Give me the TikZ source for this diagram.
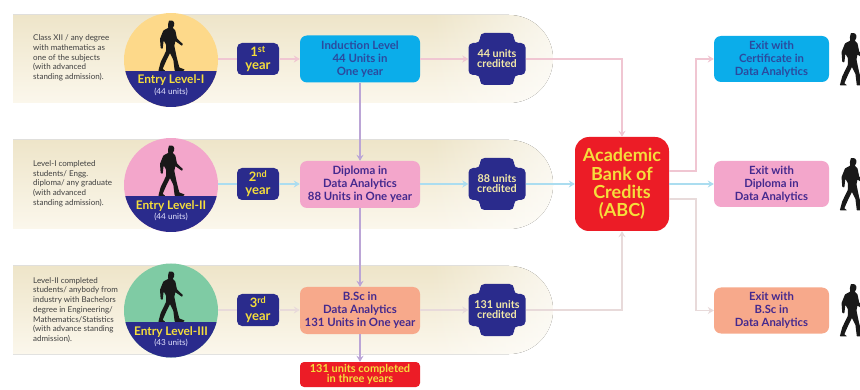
\documentclass[tikz,border=0pt]{standalone}
\usepackage{fontspec}
\setmainfont{Lato}
\usetikzlibrary{arrows.meta,fadings}
\definecolor{navy}{HTML}{2A2B8C}
\definecolor{cream}{HTML}{F3E9A8}
\definecolor{goldtxt}{HTML}{F5DE3C}
\definecolor{ink}{HTML}{44298E}
\definecolor{inkblue}{HTML}{2B4A9E}
\definecolor{cyanbox}{HTML}{0BADEA}
\definecolor{pinkbox}{HTML}{F3A6CB}
\definecolor{salmonbox}{HTML}{F7A98B}
\definecolor{redbox}{HTML}{EC1C26}
\definecolor{linkpink}{HTML}{F0C6D2}
\definecolor{linkblue}{HTML}{ABDDF0}
\definecolor{linkgrey}{HTML}{E8DADA}
\definecolor{linkviolet}{HTML}{BBA5D6}
\definecolor{bandtop}{HTML}{EEE5C9}
\definecolor{bandbottom}{HTML}{FBF7EC}
\definecolor{circleyellow}{HTML}{FDD98A}
\definecolor{circlepink}{HTML}{F3A6CB}
\definecolor{circlegreen}{HTML}{7FCBA4}
\tikzset{
  bandfill/.style={top color=bandtop,bottom color=bandbottom},
  bandfade/.style={fill=white,fill opacity=0.65,path fading=west},
  notes/.style={anchor=west,align=left,inner sep=0pt,text=black!75,font=\fontsize{8}{9.7}\selectfont},
  entrycircle/.style={circle,minimum size=94pt,inner sep=0pt,path picture={
      \fill[#1] (path picture bounding box.north west) rectangle (path picture bounding box.south east);
      \fill[navy] ([yshift=-11pt]path picture bounding box.center -| path picture bounding box.west) rectangle (path picture bounding box.south east);}},
  entrytitle/.style={inner sep=0pt,text=goldtxt,font=\fontsize{11.9}{13}\selectfont\bfseries},
  entryunits/.style={inner sep=0pt,text=white!90!blue,font=\fontsize{8.2}{9}\selectfont},
  yearbox/.style={fill=navy,rounded corners=5pt,minimum width=42pt,minimum height=32pt,inner sep=0pt,align=center,text=goldtxt,font=\fontsize{13}{13}\selectfont\bfseries},
  mainbox/.style={fill=#1,rounded corners=7pt,minimum width=120pt,minimum height=47pt,inner sep=0pt,align=center,font=\fontsize{11.4}{13}\selectfont\bfseries},
  exitbox/.style={fill=#1,rounded corners=7pt,minimum width=115pt,minimum height=46pt,inner sep=0pt,align=center,font=\fontsize{11.3}{13}\selectfont\bfseries},
  creditbox/.style={minimum width=57pt,minimum height=31pt,inner sep=0pt,align=center,text=cream,font=\fontsize{10.8}{10}\selectfont\bfseries},
  link/.style={line width=1.7pt,draw=#1},
  linkhead/.style={line width=1.7pt,draw=#1,-{Stealth[length=6pt,width=7pt]}},
  walker/.pic={
    \fill[black!90,rounded corners=0.5pt,xscale=1/3,yscale=1/3]
      (-6,0) -- (6,1) -- (10,8) -- (9,16) -- (5,22) -- (13,30) -- (18,54) -- (36,71) -- (33,76) -- (13,62) -- (10,76)
      -- (17,110) -- (25,141) -- (41,147) -- (38,151) -- (11,151) -- (7,118) -- (-3,98) -- (-14,120) -- (-25,145)
      -- (-17,151) -- (-38,151) -- (-31,125) -- (-15,92) -- (-15,72) -- (-22,60) -- (-25,85) -- (-31,83)
      -- (-33,55) -- (-23,30) -- (-8,22) -- (-9,12) -- cycle;
  },
  creditplus/.pic={
    \fill[navy,rounded corners=4.5pt]
      (-17,-26) -- (17,-26) -- (17,-16) -- (28.5,-16) -- (28.5,16) -- (17,16) -- (17,26)
      -- (-17,26) -- (-17,16) -- (-28.5,16) -- (-28.5,-16) -- (-17,-16) -- cycle;
  },
}
\begin{document}
\begin{tikzpicture}[x=1pt,y=-1pt]
\useasboundingbox (0,0) rectangle (860,390);
\clip (0,0) rectangle (860,390);
\fill[white] (0,0) rectangle (860,390);
% bands
\fill[bandfill] (13,15) [rounded corners=44pt] -- (553,15) -- (553,103) [sharp corners] -- (13,103) -- cycle;
\fill[bandfill] (13,140) [rounded corners=44pt] -- (553,140) -- (553,229) [sharp corners] -- (13,229) -- cycle;
\fill[bandfill] (13,266) [rounded corners=44pt] -- (553,266) -- (553,354) [sharp corners] -- (13,354) -- cycle;
\fill[bandfade] (430,15) [rounded corners=44pt] -- (553,15) -- (553,103) [sharp corners] -- (430,103) -- cycle;
\fill[bandfade] (430,140) [rounded corners=44pt] -- (553,140) -- (553,229) [sharp corners] -- (430,229) -- cycle;
\fill[bandfade] (430,266) [rounded corners=44pt] -- (553,266) -- (553,354) [sharp corners] -- (430,354) -- cycle;
% notes
\node[notes] (n1) at (33,58) {Class XII / any degree\\with mathematics as\\one of the subjects\\(with advanced\\standing admission).};
\node[notes] (n2) at (33,183.5) {Level-I completed\\students/ Engg.\\diploma/ any graduate\\(with advanced\\standing admission).};
\node[notes] (n3) at (33,310) {Level-II completed\\students/ anybody from\\industry with Bachelors\\degree in Engineering/\\Mathematics/Statistics\\(with advance standing\\admission).};
% entry circles
\node[entrycircle=circleyellow] (c1) at (171,60) {};
\node[entrycircle=circlepink] (c2) at (171,185) {};
\node[entrycircle=circlegreen] (c3) at (171,310.5) {};
\pic at (171,20.5) {walker};
\pic at (171,145.5) {walker};
\pic at (171,271.5) {walker};
\node[entrytitle] (t1) at (171,80) {Entry Level-I};
\node[entryunits] (u1) at (171,91.5) {(44 units)};
\node[entrytitle] (t2) at (171,206) {Entry Level-II};
\node[entryunits] (u2) at (171,217) {(44 units)};
\node[entrytitle] (t3) at (171,332) {Entry Level-III};
\node[entryunits] (u3) at (171,343) {(43 units)};
% year boxes
\node[yearbox] (y1) at (258,59) {1\textsuperscript{st}\\year};
\node[yearbox] (y2) at (258,184) {2\textsuperscript{nd}\\year};
\node[yearbox] (y3) at (258,310) {3\textsuperscript{rd}\\year};
% main boxes
\node[mainbox=cyanbox,text=inkblue] (m1) at (360,59) {Induction Level\\44 Units in\\One year};
\node[mainbox=pinkbox,text=ink] (m2) at (360,184.5) {Diploma in\\Data Analytics\\88 Units in One year};
\node[mainbox=salmonbox,text=ink] (m3) at (360,310.5) {B.Sc in\\Data Analytics\\131 Units in One year};
\node[fill=redbox,rounded corners=4pt,minimum width=120pt,minimum height=25pt,inner sep=0pt,align=center,text=goldtxt,font=\fontsize{11}{10.5}\selectfont\bfseries] (done) at (360,374.5) {131 units completed\\in three years};
% credit shapes
\pic at (497,59) {creditplus};
\pic at (497,184) {creditplus};
\pic at (497,310) {creditplus};
\node[creditbox] (k1) at (497,59) {44 units\\credited};
\node[creditbox] (k2) at (497,184) {88 units\\credited};
\node[creditbox] (k3) at (497,310) {131 units\\credited};
% ABC
\node[fill=redbox,rounded corners=14pt,minimum width=94pt,minimum height=94pt,inner sep=0pt,align=center,text=goldtxt,font=\fontsize{18}{18.3}\selectfont\bfseries] (abc) at (622,184) {Academic\\Bank of\\Credits\\(ABC)};
% exits
\node[exitbox=cyanbox,text=inkblue] (e1) at (771.5,59) {Exit with\\Certificate in\\Data Analytics};
\node[exitbox=pinkbox,text=ink] (e2) at (771.5,184) {Exit with\\Diploma in\\Data Analytics};
\node[exitbox=salmonbox,text=ink] (e3) at (771.5,310.5) {Exit with\\B.Sc in\\Data Analytics};
\pic[scale=1.04] at (853,33) {walker};
\pic[scale=1.04] at (853,158) {walker};
\pic[scale=1.04] at (853,284) {walker};
% connectors
\draw[link=linkpink] (y1.west -| c1.east) -- (y1.west);
\draw[link=linkblue] (y2.west -| c2.east) -- (y2.west);
\draw[link=linkgrey] (y3.west -| c3.east) -- (y3.west);
\draw[linkhead=linkpink] (y1.east) -- (m1.west);
\draw[linkhead=linkblue] (y2.east) -- (m2.west |- y2.east);
\draw[linkhead=linkgrey] (y3.east) -- (m3.west |- y3.east);
\draw[linkhead=linkpink] (m1.east) -- (k1.west);
\draw[linkhead=linkblue] (m2.east |- k2.west) -- (k2.west);
\draw[linkhead=linkgrey] (m3.east |- k3.west) -- (k3.west);
\draw[linkhead=linkviolet] (m1.south) -- (m2.north);
\draw[linkhead=linkviolet] (m2.south) -- (m3.north);
\draw[linkhead=linkviolet] (m3.south) -- (done.north);
\draw[linkhead=linkpink] (k1.east) -| (abc.north);
\draw[linkhead=linkblue] (k2.east) -- (abc.west);
\draw[linkhead=linkgrey] (k3.east) -| (abc.south);
\coordinate (busup) at (696,171);
\coordinate (busdown) at (696,199);
\draw[linkhead=linkpink] (abc.east |- busup) -- (busup) |- (e1.west);
\draw[linkhead=linkblue] (abc.east) -- (e2.west);
\draw[linkhead=linkgrey] (abc.east |- busdown) -- (busdown) |- (e3.west);
\end{tikzpicture}
\end{document}
